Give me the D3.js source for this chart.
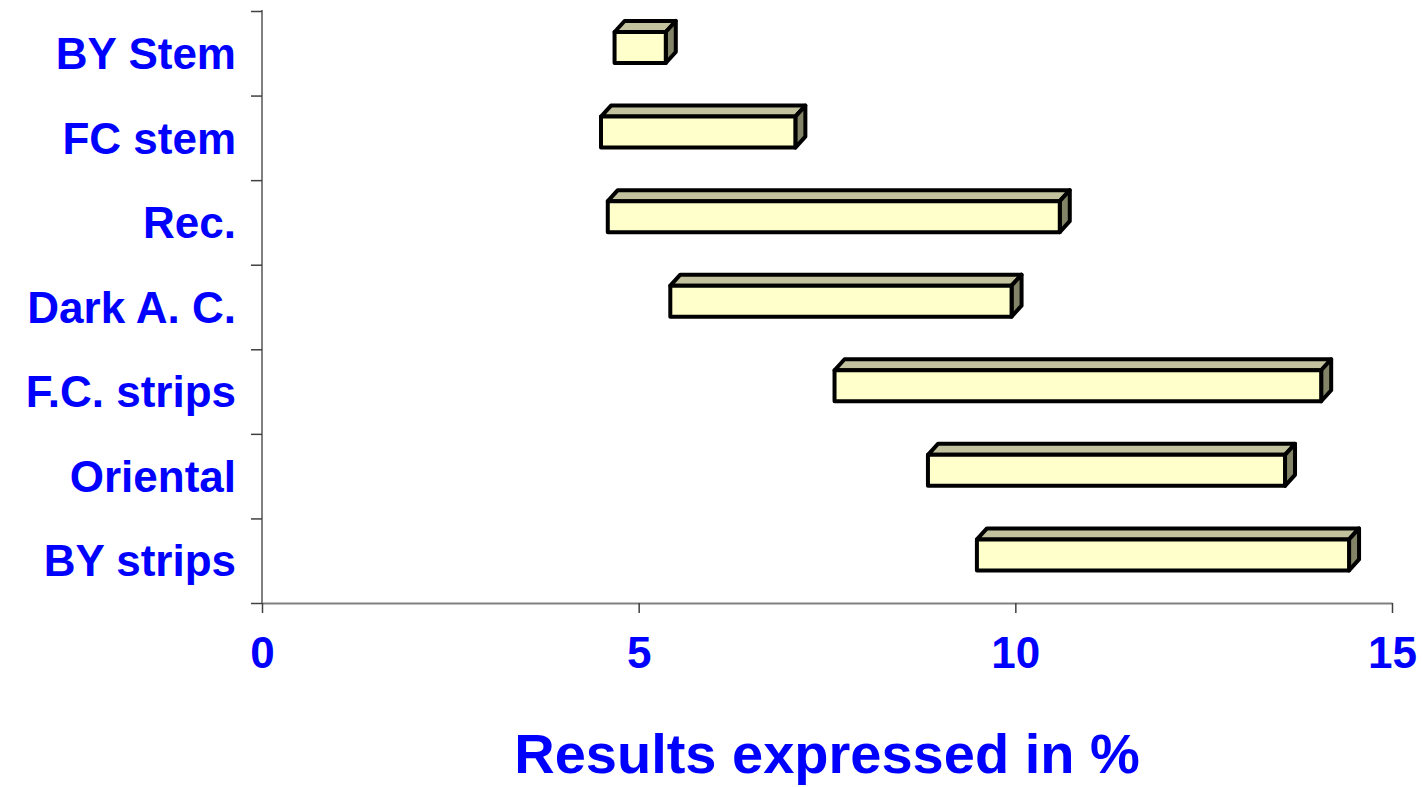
<!DOCTYPE html>
<html>
<head>
<meta charset="utf-8">
<script src="https://cdn.jsdelivr.net/npm/d3@7"></script>
<style>
  html, body { margin: 0; padding: 0; background: #ffffff; }
  svg { display: block; }
  text { font-family: "Liberation Sans", Arial, sans-serif; font-weight: bold; fill: #0000ff; }
</style>
</head>
<body>
<svg id="chart" width="1422" height="787"></svg>
<script>
// Categories, top to bottom
const categories = ["BY Stem", "FC stem", "Rec.", "Dark A. C.", "F.C. strips", "Oriental", "BY strips"];
// Lower and upper bounds of each range (%)
const rangeLow  = [4.68, 4.50, 4.59, 5.42, 7.60, 8.84, 9.49];
const rangeHigh = [5.36, 7.08, 10.59, 9.95, 14.06, 13.58, 14.43];
// Value axis ticks
const xTicks = [0, 5, 10, 15];
const axisTitle = "Results expressed in %";

const rows = categories.map((c, i) => ({ name: c, low: rangeLow[i], high: rangeHigh[i] }));

const svg = d3.select("#chart");
const plot = { left: 262, right: 1392, top: 11, bottom: 603 };

const x = d3.scaleLinear().domain([0, 15]).range([plot.left, plot.right]);
const y = d3.scaleBand().domain(categories).range([plot.top, plot.bottom]).padding(0);
const yEdges = d3.scaleLinear().domain([0, categories.length]).range([plot.top, plot.bottom]);

// Y axis: line with ticks at category boundaries
const yAxis = svg.append("g")
  .attr("transform", `translate(${plot.left},0)`)
  .call(d3.axisLeft(yEdges).tickValues(d3.range(categories.length + 1)).tickSize(11).tickSizeOuter(0).tickFormat(""));
yAxis.select(".domain").attr("stroke", "#808080").attr("stroke-width", 2).attr("d", `M0,10V${plot.bottom}`);
yAxis.selectAll(".tick line").attr("stroke", "#404040").attr("stroke-width", 1.5);

// X axis
const xAxis = svg.append("g")
  .attr("transform", `translate(0,${plot.bottom})`)
  .call(d3.axisBottom(x).tickValues(xTicks).tickSize(10).tickSizeOuter(0).tickPadding(24).tickFormat(d3.format("d")));
xAxis.select(".domain").attr("stroke", "#808080").attr("stroke-width", 2);
xAxis.selectAll(".tick line").attr("stroke", "#404040").attr("stroke-width", 1.5);
xAxis.selectAll(".tick text")
  .attr("font-size", 44)
  .attr("font-family", "'Liberation Sans', Arial, sans-serif")
  .attr("font-weight", "bold")
  .attr("fill", "#0000ff");

// Category labels
svg.append("g").selectAll("text")
  .data(categories)
  .join("text")
  .attr("x", 236)
  .attr("y", d => y(d) + y.bandwidth() / 2 + 15.7)
  .attr("text-anchor", "end")
  .attr("font-size", 44)
  .text(d => d);

// 3D floating bars
const depthX = 10, depthY = 11, faceH = 31, lift = 5.8;
const bars = svg.append("g")
  .attr("stroke", "#000000")
  .attr("stroke-width", 4)
  .attr("stroke-linejoin", "round")
  .selectAll("g")
  .data(rows)
  .join("g");

bars.each(function (d) {
  const g = d3.select(this);
  const x0 = x(d.low), x1 = x(d.high);
  const cy = y(d.name) + y.bandwidth() / 2 - lift;
  const t = cy - faceH / 2, b = cy + faceH / 2;
  // top face
  g.append("path")
    .attr("fill", "#c2c29e")
    .attr("d", `M${x0},${t}L${x0 + depthX},${t - depthY}L${x1 + depthX},${t - depthY}L${x1},${t}Z`);
  // right end face
  g.append("path")
    .attr("fill", "#838368")
    .attr("d", `M${x1},${t}L${x1 + depthX},${t - depthY}L${x1 + depthX},${b - depthY}L${x1},${b}Z`);
  // front face
  g.append("rect")
    .attr("fill", "#ffffcc")
    .attr("x", x0).attr("y", t)
    .attr("width", x1 - x0).attr("height", faceH);
});

// Axis title
svg.append("text")
  .attr("x", (plot.left + plot.right) / 2)
  .attr("y", 773)
  .attr("text-anchor", "middle")
  .attr("font-size", 56)
  .text(axisTitle);
</script>
</body>
</html>
